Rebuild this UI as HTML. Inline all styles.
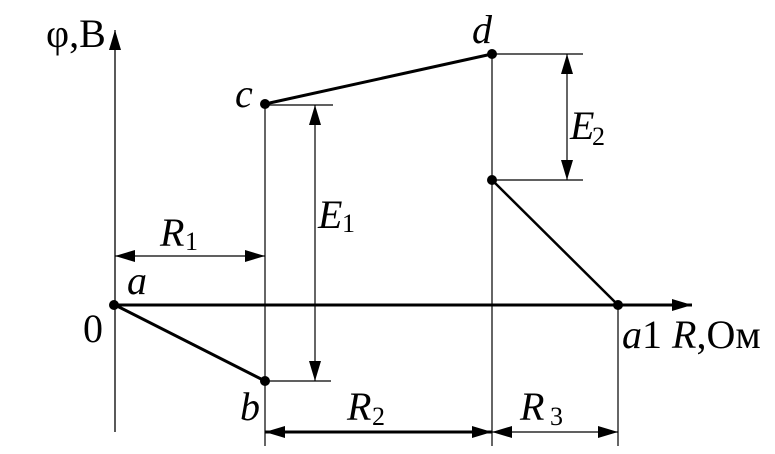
<!DOCTYPE html>
<html><head><style>body{margin:0;background:#fff}svg{display:block}text{font-family:"Liberation Serif","DejaVu Serif",serif}</style></head><body>
<svg width="775" height="454" xmlns="http://www.w3.org/2000/svg">
<defs>
<marker id="ah" viewBox="0 0 20 12" refX="20" refY="6" markerWidth="20" markerHeight="12" markerUnits="userSpaceOnUse" orient="auto-start-reverse"><path d="M0,0L20,6L0,12z" fill="#000"/></marker>
</defs>
<g stroke="#000" fill="none">
<line x1="115" y1="432" x2="115" y2="30" stroke-width="1.3" marker-end="url(#ah)"/>
<line x1="115" y1="305" x2="692" y2="305" stroke-width="3"/>
<path d="M672,299L692,305L672,311z" fill="#000" stroke="none"/>
<line x1="265" y1="104" x2="265" y2="446" stroke-width="1.2"/>
<line x1="492" y1="54" x2="492" y2="446" stroke-width="1.2"/>
<line x1="618" y1="305" x2="618" y2="446" stroke-width="1.2"/>
<line x1="265" y1="105" x2="333" y2="105" stroke-width="1.2"/>
<line x1="265" y1="381" x2="331" y2="381" stroke-width="1.2"/>
<line x1="492" y1="54" x2="583" y2="54" stroke-width="1.2"/>
<line x1="492" y1="180" x2="583" y2="180" stroke-width="1.2"/>
<line x1="115" y1="305" x2="265" y2="381" stroke-width="3"/>
<line x1="265" y1="104" x2="492" y2="54" stroke-width="3"/>
<line x1="492" y1="180" x2="618" y2="305" stroke-width="2.5"/>
<line x1="315" y1="105" x2="315" y2="381" stroke-width="1.2" marker-start="url(#ah)" marker-end="url(#ah)"/>
<line x1="567" y1="54" x2="567" y2="180" stroke-width="1.2" marker-start="url(#ah)" marker-end="url(#ah)"/>
<line x1="115" y1="256" x2="265" y2="256" stroke-width="1.2" marker-start="url(#ah)" marker-end="url(#ah)"/>
<line x1="265" y1="432" x2="492" y2="432" stroke-width="3" marker-start="url(#ah)" marker-end="url(#ah)"/>
<line x1="492" y1="432" x2="618" y2="432" stroke-width="1.2" marker-start="url(#ah)" marker-end="url(#ah)"/>
</g>
<g fill="#000">
<circle cx="114" cy="305" r="5"/>
<circle cx="265" cy="104" r="5"/>
<circle cx="265" cy="381" r="5"/>
<circle cx="492" cy="54" r="5"/>
<circle cx="492" cy="180" r="5"/>
<circle cx="618" cy="305" r="5"/>
</g>
<g font-size="40" fill="#000">
<text x="46" y="47">φ,B</text>
<text x="235" y="107" font-style="italic">c</text>
<text x="472" y="43" font-style="italic">d</text>
<text x="127" y="294" font-style="italic">a</text>
<text x="83" y="342">0</text>
<text x="240" y="420" font-style="italic">b</text>
<text x="622" y="348"><tspan font-style="italic">a</tspan>1 <tspan font-style="italic">R</tspan>,Ом</text>
<text x="160" y="246" font-style="italic">R</text><text x="185" y="250" font-size="26">1</text>
<text x="318" y="228" font-style="italic">E</text><text x="342" y="232" font-size="26">1</text>
<text x="570" y="139" font-style="italic">E</text><text x="592" y="145" font-size="26">2</text>
<text x="347" y="420" font-style="italic">R</text><text x="372" y="425" font-size="26">2</text>
<text x="520" y="420" font-style="italic">R</text><text x="550" y="425" font-size="26">3</text>
</g>
</svg>
</body></html>
